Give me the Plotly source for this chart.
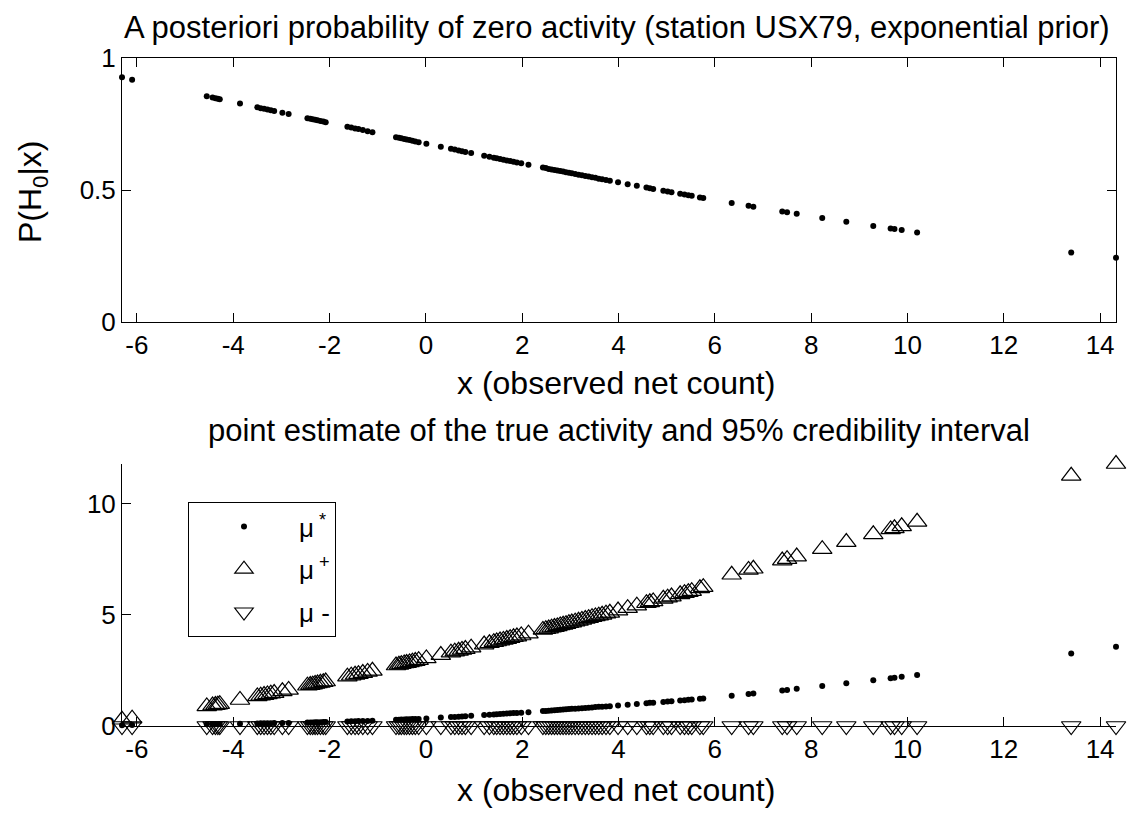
import plotly.graph_objects as go

# ---- data ----
x_obs = [-6.31, -6.10, -4.55, -4.43, -4.37, -4.32, -4.28, -3.86, -3.50, -3.43,
         -3.36, -3.29, -3.22, -3.15, -2.98, -2.85, -2.46, -2.40, -2.35, -2.30,
         -2.25, -2.19, -2.13, -2.08, -1.63, -1.55, -1.47, -1.40, -1.31, -1.21,
         -1.11, -0.62, -0.56, -0.51, -0.45, -0.40, -0.34, -0.28, -0.22, -0.15,
         0.01, 0.31, 0.52, 0.60, 0.68, 0.75, 0.82, 0.94, 1.21, 1.32,
         1.41, 1.47, 1.54, 1.61, 1.68, 1.75, 1.82, 1.89, 1.98, 2.13,
         2.43, 2.49, 2.55, 2.61, 2.67, 2.73, 2.79, 2.85, 2.91, 2.97,
         3.03, 3.10, 3.17, 3.24, 3.31, 3.38, 3.45, 3.52, 3.59, 3.66,
         3.74, 3.82, 3.99, 4.19, 4.38, 4.58, 4.65, 4.72, 4.93, 5.02,
         5.10, 5.28, 5.37, 5.45, 5.52, 5.69, 5.76, 6.35, 6.70, 6.80,
         7.40, 7.50, 7.70, 8.23, 8.73, 9.29, 9.65, 9.73, 9.88, 10.20,
         13.40, 14.33]

p_h0 = [0.927, 0.918, 0.855, 0.850, 0.848, 0.846, 0.844, 0.828, 0.813, 0.810,
        0.808, 0.805, 0.802, 0.799, 0.793, 0.788, 0.772, 0.770, 0.768, 0.766,
        0.764, 0.761, 0.759, 0.757, 0.740, 0.737, 0.733, 0.731, 0.727, 0.723,
        0.719, 0.700, 0.698, 0.696, 0.693, 0.691, 0.689, 0.687, 0.684, 0.681,
        0.675, 0.664, 0.656, 0.653, 0.650, 0.647, 0.644, 0.640, 0.630, 0.626,
        0.622, 0.620, 0.617, 0.615, 0.612, 0.610, 0.607, 0.604, 0.601, 0.596,
        0.585, 0.583, 0.580, 0.578, 0.576, 0.574, 0.572, 0.570, 0.567, 0.565,
        0.563, 0.561, 0.558, 0.556, 0.553, 0.551, 0.548, 0.546, 0.543, 0.541,
        0.538, 0.535, 0.529, 0.522, 0.516, 0.509, 0.507, 0.504, 0.497, 0.494,
        0.491, 0.486, 0.483, 0.480, 0.478, 0.472, 0.470, 0.451, 0.440, 0.437,
        0.419, 0.416, 0.410, 0.394, 0.380, 0.364, 0.354, 0.352, 0.348, 0.339,
        0.263, 0.243]

mu_star = [0.03, 0.04, 0.08, 0.08, 0.08, 0.09, 0.09, 0.10, 0.11, 0.12,
           0.12, 0.12, 0.12, 0.13, 0.13, 0.14, 0.16, 0.16, 0.16, 0.17,
           0.17, 0.17, 0.18, 0.18, 0.20, 0.21, 0.21, 0.22, 0.22, 0.23,
           0.24, 0.28, 0.28, 0.29, 0.29, 0.30, 0.30, 0.31, 0.31, 0.32,
           0.34, 0.38, 0.40, 0.41, 0.42, 0.43, 0.44, 0.46, 0.49, 0.51,
           0.52, 0.53, 0.54, 0.55, 0.56, 0.57, 0.58, 0.59, 0.60, 0.62,
           0.67, 0.68, 0.69, 0.70, 0.71, 0.72, 0.73, 0.74, 0.75, 0.76,
           0.77, 0.78, 0.79, 0.80, 0.81, 0.82, 0.83, 0.85, 0.86, 0.87,
           0.88, 0.89, 0.92, 0.96, 0.99, 1.02, 1.04, 1.05, 1.08, 1.10,
           1.11, 1.15, 1.16, 1.18, 1.19, 1.22, 1.24, 1.36, 1.44, 1.46,
           1.60, 1.62, 1.67, 1.80, 1.92, 2.06, 2.15, 2.17, 2.21, 2.29,
           3.26, 3.56]

mu_plus = [0.28, 0.33, 0.88, 0.92, 0.94, 0.96, 0.98, 1.17, 1.33, 1.36,
           1.39, 1.42, 1.45, 1.48, 1.56, 1.62, 1.81, 1.84, 1.86, 1.89,
           1.91, 1.94, 1.97, 2.00, 2.22, 2.26, 2.30, 2.33, 2.38, 2.43,
           2.48, 2.72, 2.75, 2.78, 2.81, 2.83, 2.86, 2.89, 2.92, 2.96,
           3.04, 3.19, 3.30, 3.34, 3.38, 3.42, 3.46, 3.52, 3.66, 3.72,
           3.77, 3.80, 3.84, 3.87, 3.91, 3.95, 3.99, 4.02, 4.07, 4.15,
           4.32, 4.35, 4.38, 4.42, 4.45, 4.48, 4.52, 4.55, 4.58, 4.62,
           4.65, 4.69, 4.73, 4.77, 4.81, 4.85, 4.89, 4.93, 4.96, 5.00,
           5.05, 5.09, 5.19, 5.30, 5.41, 5.52, 5.56, 5.60, 5.72, 5.77,
           5.82, 5.92, 5.97, 6.02, 6.06, 6.19, 6.24, 6.80, 7.02, 7.07,
           7.44, 7.50, 7.62, 7.95, 8.27, 8.62, 8.84, 8.89, 8.98, 9.18,
           11.25, 11.78]

mu_minus = [0.0] * len(x_obs)

x_ticks = [-6, -4, -2, 0, 2, 4, 6, 8, 10, 12, 14]
x_tick_labels = ["-6", "-4", "-2", "0", "2", "4", "6", "8", "10", "12", "14"]
p_ticks = [0, 0.5, 1]
p_tick_labels = ["0", "0.5", "1"]
mu_ticks = [0, 5, 10]
mu_tick_labels = ["0", "5", "10"]

title_top = "A posteriori probability of zero activity (station USX79, exponential prior)"
title_bottom = "point estimate of the true activity and 95% credibility interval"
x_label = "x (observed net count)"
y_label_top = "P(H<sub>0</sub>|x)"

FONT = "Liberation Sans, Arial, Helvetica, sans-serif"

fig = go.Figure()

fig.add_trace(go.Scatter(x=x_obs, y=p_h0, mode="markers", xaxis="x", yaxis="y",
                         marker=dict(color="black", size=6, symbol="circle"),
                         showlegend=False, cliponaxis=False))

fig.add_trace(go.Scatter(x=x_obs, y=mu_star, mode="markers", xaxis="x2", yaxis="y2",
                         name="μ<sup> *</sup>", legendgroup="a",
                         marker=dict(color="black", size=6, symbol="circle"),
                         cliponaxis=False))
fig.add_trace(go.Scatter(x=x_obs, y=mu_plus, mode="markers", xaxis="x2", yaxis="y2",
                         name="μ<sup> +</sup>", legendgroup="b",
                         marker=dict(color="black", size=17, symbol="triangle-up-open",
                                     line=dict(width=1.2, color="black")),
                         cliponaxis=False))
fig.add_trace(go.Scatter(x=x_obs, y=mu_minus, mode="markers", xaxis="x2", yaxis="y2",
                         name="μ -", legendgroup="c",
                         marker=dict(color="black", size=17, symbol="triangle-down-open",
                                     line=dict(width=1.2, color="black")),
                         cliponaxis=False))

xr = [min(x_obs), max(x_obs)]
axis_common = dict(showgrid=False, zeroline=False, ticks="inside", ticklen=9,
                   tickcolor="black", linecolor="black", linewidth=1, showline=True,
                   tickfont=dict(family=FONT, size=26, color="black"))

fig.update_layout(
    width=1128, height=813,
    margin=dict(l=122, r=12, t=58, b=87),
    paper_bgcolor="white", plot_bgcolor="white",
    font=dict(family=FONT, color="black"),
    xaxis=dict(domain=[0, 1], anchor="y", range=xr, tickvals=x_ticks, ticktext=x_tick_labels,
               mirror="ticks", **axis_common),
    yaxis=dict(domain=[0.6048, 1.0], anchor="x", range=[0, 1], tickvals=p_ticks,
               ticktext=p_tick_labels, mirror="ticks", **axis_common),
    xaxis2=dict(domain=[0, 1], anchor="y2", range=xr, tickvals=x_ticks, ticktext=x_tick_labels,
                **axis_common),
    yaxis2=dict(domain=[0, 0.3922], anchor="x2", range=[0, max(mu_plus)], tickvals=mu_ticks,
                ticktext=mu_tick_labels, **axis_common),
    legend=dict(x=(188 - 122) / 994, y=(726 - 502) / 668, xanchor="left", yanchor="top",
                bordercolor="black", borderwidth=1, bgcolor="white",
                font=dict(family=FONT, size=26, color="black"),
                tracegroupgap=6, itemwidth=100),
    showlegend=True,
)

ann = []
ann.append(dict(text=title_top, x=617 / 1128, y=1 - 27 / 813, xref="paper", yref="paper",
                showarrow=False, xanchor="center", yanchor="middle",
                font=dict(family=FONT, size=31, color="black")))
ann.append(dict(text=x_label, x=616 / 1128, y=1 - 383 / 813, xref="paper", yref="paper",
                showarrow=False, xanchor="center", yanchor="middle",
                font=dict(family=FONT, size=32, color="black")))
ann.append(dict(text=title_bottom, x=619 / 1128, y=1 - 430 / 813, xref="paper", yref="paper",
                showarrow=False, xanchor="center", yanchor="middle",
                font=dict(family=FONT, size=31, color="black")))
ann.append(dict(text=x_label, x=616 / 1128, y=1 - 790 / 813, xref="paper", yref="paper",
                showarrow=False, xanchor="center", yanchor="middle",
                font=dict(family=FONT, size=32, color="black")))
ann.append(dict(text=y_label_top, x=33 / 1128, y=1 - 192 / 813, xref="paper", yref="paper",
                showarrow=False, xanchor="center", yanchor="middle", textangle=-90,
                font=dict(family=FONT, size=32, color="black")))
# convert figure-pixel based positions -> plot-area paper coords
W, H = 1128, 813
l, r, t, b = 122, 12, 58, 87
pw, ph = W - l - r, H - t - b
for a in ann:
    px = a["x"] * W
    py = (1 - a["y"]) * H
    a["x"] = (px - l) / pw
    a["y"] = (H - b - py) / ph
fig.update_layout(annotations=ann)

fig.write_html("out.html", config={"displayModeBar": False},
               post_script="document.body.style.margin='0';document.body.style.padding='0';"
                           "document.documentElement.style.overflow='hidden';")
